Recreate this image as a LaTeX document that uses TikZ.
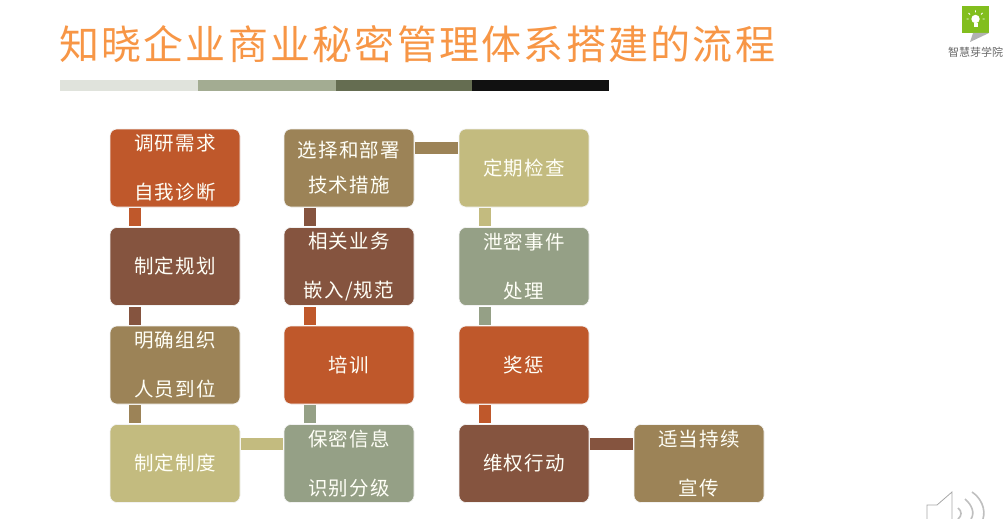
\documentclass[tikz,border=0pt]{standalone}
\usepackage{fontspec}
\setmainfont{Noto Sans CJK SC}
\newfontfamily\boxfont[LetterSpace=6]{Noto Sans CJK SC}
\definecolor{rust}{HTML}{BF582B}
\definecolor{umber}{HTML}{85543F}
\definecolor{khaki}{HTML}{9C8357}
\definecolor{straw}{HTML}{C3BB7F}
\definecolor{sage}{HTML}{95A086}
\definecolor{titleorange}{HTML}{F79646}
\definecolor{stripeone}{HTML}{E0E3DC}
\definecolor{stripetwo}{HTML}{A3AC92}
\definecolor{stripethree}{HTML}{656D51}
\definecolor{stripefour}{HTML}{111111}
\tikzset{
  stepbox/.style={rounded corners=7pt, draw=white!95!black, line width=0.6pt, minimum width=130pt, minimum height=78pt, inner sep=0pt, align=center, text=white!97!yellow, font=\boxfont\fontsize{19.5}{49}\selectfont},
  downbar/.style={line width=12pt, shorten >=1pt, shorten <=1pt},
  sidebar/.style={line width=12pt, shorten >=1pt, shorten <=1pt},
  soundwave/.style={black!25, line width=1.6pt}
}
\begin{document}
\begin{tikzpicture}[x=1pt, y=-1pt]
\useasboundingbox (0,0) rectangle (1007,519);

\node [anchor=west, inner sep=0pt, text=titleorange, font=\fontsize{40}{40}\selectfont\addfontfeatures{LetterSpace=5.6}] (title) at (59,44) {知晓企业商业秘密管理体系搭建的流程};

\fill [stripeone] (60,80) rectangle (198,91);
\fill [stripetwo] (198,80) rectangle (336,91);
\fill [stripethree] (336,80) rectangle (472,91);
\fill [stripefour] (472,80) rectangle (609,91);

% first column
\node [stepbox, fill=rust] (survey) at (175,168) {调研需求\\自我诊断};
\node [stepbox, fill=umber] (plan) at (175,266.5) {制定规划};
\node [stepbox, fill=khaki] (staff) at (175,365) {明确组织\\人员到位};
\node [stepbox, fill=straw] (rules) at (175,463.5) {制定制度};

% second column
\node [stepbox, fill=khaki, font=\boxfont\fontsize{19.5}{35}\selectfont] (tech) at (349,168) {选择和部署\\技术措施};
\node [stepbox, fill=umber] (embed) at (349,266.5) {相关业务\\嵌入/规范};
\node [stepbox, fill=rust] (train) at (349,365) {培训};
\node [stepbox, fill=sage] (classify) at (349,463.5) {保密信息\\识别分级};

% third column
\node [stepbox, fill=straw] (check) at (524,168) {定期检查};
\node [stepbox, fill=sage] (leak) at (524,266.5) {泄密事件\\处理};
\node [stepbox, fill=rust] (reward) at (524,365) {奖惩};
\node [stepbox, fill=umber] (defend) at (524,463.5) {维权行动};

\node [stepbox, fill=khaki] (publicity) at (699,463.5) {适当持续\\宣传};

\draw [downbar, rust] ([xshift=-40pt]survey.south) -- ([xshift=-40pt]plan.north);
\draw [downbar, umber] ([xshift=-40pt]plan.south) -- ([xshift=-40pt]staff.north);
\draw [downbar, khaki] ([xshift=-40pt]staff.south) -- ([xshift=-40pt]rules.north);
\draw [sidebar, straw] ([yshift=20pt]rules.east) -- ([yshift=20pt]classify.west);
\draw [downbar, sage] ([xshift=-39pt]classify.north) -- ([xshift=-39pt]train.south);
\draw [downbar, rust] ([xshift=-39pt]train.north) -- ([xshift=-39pt]embed.south);
\draw [downbar, umber] ([xshift=-39pt]embed.north) -- ([xshift=-39pt]tech.south);
\draw [sidebar, khaki] ([yshift=20pt]tech.east) -- ([yshift=20pt]check.west);
\draw [downbar, straw] ([xshift=-39pt]check.south) -- ([xshift=-39pt]leak.north);
\draw [downbar, sage] ([xshift=-39pt]leak.south) -- ([xshift=-39pt]reward.north);
\draw [downbar, rust] ([xshift=-39pt]reward.south) -- ([xshift=-39pt]defend.north);
\draw [sidebar, umber] ([yshift=20pt]defend.east) -- ([yshift=20pt]publicity.west);

% logo
\fill [fill={rgb,255:red,130;green,190;blue,30}] (962,6) rectangle (989,33);
\fill [gray!60] (973,33) -- (989,33) -- (970,42) -- cycle;
\fill [white] (975.5,19) circle (4.2);
\fill [white] (973.5,23) rectangle (977.5,27);
\draw [white, line width=0.8pt] (975.5,10.5) -- (975.5,12.5) (968.5,13) -- (970,14.5) (982.5,13) -- (981,14.5) (966.5,19) -- (968.5,19) (984.5,19) -- (982.5,19);
\node [text=black!60, font=\fontsize{11}{11}\selectfont] (logotext) at (975.5,52) {智慧芽学院};

% speaker
\draw [black!35, line width=0.8pt] (927,519) -- (927,505) -- (937,505) -- (952,492) -- (952,519);
\draw [soundwave] (958,508) .. controls (962,511) and (962,516) .. (958,519);
\draw [soundwave] (965,499) .. controls (972,505) and (975,513) .. (971,519);
\draw [soundwave] (972,492) .. controls (981,498) and (986,509) .. (983,519);
\end{tikzpicture}
\end{document}
